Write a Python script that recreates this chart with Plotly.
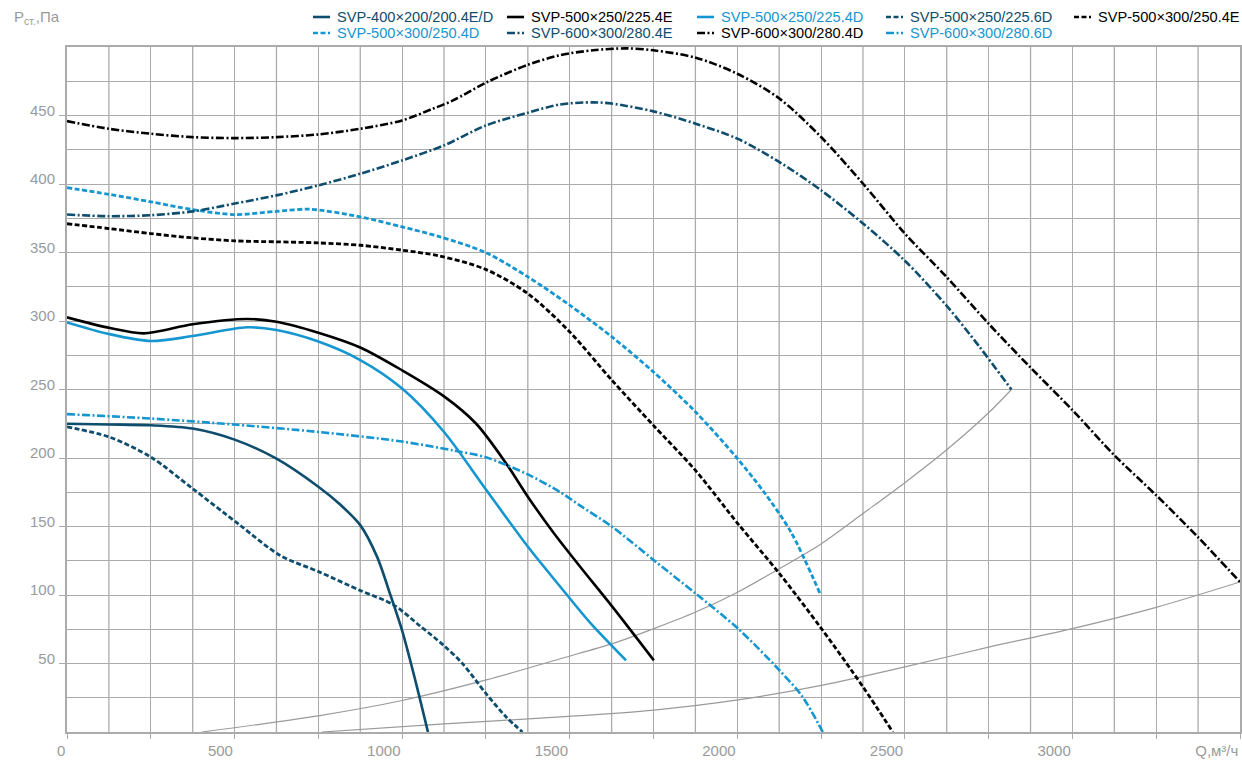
import plotly.graph_objects as go

# ---------------- data ----------------
names = [
    "SVP-400×200/200.4E/D", "SVP-500×250/225.4E", "SVP-500×250/225.4D",
    "SVP-500×250/225.6D", "SVP-500×300/250.4E", "SVP-500×300/250.4D",
    "SVP-600×300/280.4E", "SVP-600×300/280.4D", "SVP-600×300/280.6D",
]

q_400_200_4ED = [0, 125, 250, 375, 500, 625, 750, 815, 875, 925, 965, 1000, 1040, 1077]
p_400_200_4ED = [225, 224.5, 223.9, 221.5, 213.4, 199.5, 179, 166, 151, 128, 100, 74, 37, 0]

q_500_250_4E = [0, 125, 229, 375, 537, 625, 750, 875, 1000, 1125, 1221, 1311, 1376, 1450, 1530, 1627, 1751]
p_500_250_4E = [302.7, 295, 291, 297.6, 301.5, 299.5, 291.5, 280.7, 264, 245, 225, 195.8, 171.4, 146, 121, 91.5, 52.3]

q_500_250_4D = [0, 125, 250, 375, 537, 625, 750, 875, 1000, 1125, 1250, 1376, 1472, 1560, 1668]
p_500_250_4D = [299, 290.5, 285.4, 289, 295.4, 293.4, 285, 271.5, 250.7, 219, 177, 135, 106, 80, 52.3]

q_500_250_6D = [0, 125, 250, 375, 516, 635, 754, 875, 973, 1052, 1125, 1181, 1251, 1311, 1359]
p_500_250_6D = [222.7, 215.4, 200.7, 177.6, 151, 129, 116.7, 103.3, 93, 77.7, 63, 49.7, 27.8, 10.8, 0]

q_500_300_4E = [0, 125, 250, 375, 500, 625, 750, 875, 1000, 1111, 1249, 1374, 1499, 1625, 1749, 1874, 2002, 2126, 2251, 2375, 2464]
p_500_300_4E = [371, 367.5, 363.8, 360.7, 358.5, 357.8, 357, 355.3, 351.7, 347.5, 337.7, 320.2, 292.3, 257, 224, 191.3, 152, 115.6, 75.5, 33, 0]

q_500_300_4D = [0, 125, 250, 375, 500, 625, 725, 875, 1000, 1111, 1249, 1374, 1499, 1625, 1749, 1874, 1999, 2080, 2160, 2247]
p_500_300_4D = [397.3, 392.5, 387, 381.3, 377.7, 380, 381.6, 376, 368.7, 361.6, 350, 332.4, 311.7, 288.6, 263, 234, 200, 175, 146, 101]

q_600_300_4E = [0, 125, 250, 375, 500, 625, 750, 875, 1000, 1125, 1250, 1375, 1470, 1570, 1625, 1750, 1876, 2000, 2126, 2250, 2376, 2500, 2625, 2720, 2818]
p_600_300_4E = [377.7, 376.5, 377.2, 380, 385.7, 391.7, 399, 407.5, 417.2, 428.2, 442.7, 452, 458, 459.6, 458.7, 453, 444, 433.1, 416, 395.4, 371, 344, 311, 282, 250]

q_600_300_4D = [0, 125, 250, 375, 500, 625, 750, 875, 1000, 1092, 1152, 1250, 1375, 1470, 1570, 1669, 1749, 1876, 2000, 2126, 2250, 2376, 2500, 2625, 2750, 2875, 3000, 3125, 3250, 3374, 3500]
p_600_300_4D = [445.9, 440.3, 436.7, 434.2, 433.5, 434.2, 436.2, 440.3, 446.4, 455, 461, 474, 487, 494, 497.6, 499, 497.6, 492.2, 480.5, 462.3, 434.3, 400, 363.8, 332, 298, 266, 235, 202, 172.8, 142.4, 109.5]

q_600_300_6D = [0, 250, 500, 750, 1000, 1152, 1250, 1375, 1472, 1530, 1627, 1751, 1876, 2002, 2126, 2195, 2255]
p_600_300_6D = [232, 228.8, 224.4, 219, 212, 205.5, 200.5, 188, 175, 165.4, 149.7, 125.4, 101, 75.5, 45, 25.6, 0]

# grey system characteristics
q_sys_a = [403, 754, 1000, 1251, 1472, 1627, 1751, 1876, 2002, 2126, 2251, 2375, 2500, 2625, 2750, 2818]
p_sys_a = [0, 12, 23, 38, 53.5, 64.5, 75.5, 87.6, 102.2, 119.3, 137.5, 159.5, 182, 206, 233, 250]
q_sys_b = [760, 1125, 1472, 1751, 2002, 2251, 2500, 2750, 3000, 3250, 3500]
p_sys_b = [0, 6, 11, 16, 23.4, 34, 47.5, 62, 75.5, 91, 109.5]

x_tick_vals = [0, 500, 1000, 1500, 2000, 2500, 3000, 3500]
x_tick_text = ["0", "500", "1000", "1500", "2000", "2500", "3000", "Q,м³/ч"]
y_tick_vals = [50, 100, 150, 200, 250, 300, 350, 400, 450]
y_tick_text = ["50", "100", "150", "200", "250", "300", "350", "400", "450"]

# ---------------- styles ----------------
DARK = "#0e4d6d"
BLACK = "#000000"
LIGHT = "#1596d0"
GRID = "#ababab"
TXT = "#9a9a9a"
DASH = "5px,2.5px"
DASHDOT = "8px,2.5px,2px,2.5px"
FONT = "Liberation Sans, Arial, sans-serif"
SMOOTH = 0.85

styles = [
    (DARK, "solid", 2.6), (BLACK, "solid", 2.6), (LIGHT, "solid", 2.6),
    (DARK, DASH, 2.8), (BLACK, DASH, 2.8), (LIGHT, DASH, 2.8),
    (DARK, DASHDOT, 2.6), (BLACK, DASHDOT, 2.6), (LIGHT, DASHDOT, 2.6),
]
series = [
    (q_400_200_4ED, p_400_200_4ED), (q_500_250_4E, p_500_250_4E), (q_500_250_4D, p_500_250_4D),
    (q_500_250_6D, p_500_250_6D), (q_500_300_4E, p_500_300_4E), (q_500_300_4D, p_500_300_4D),
    (q_600_300_4E, p_600_300_4E), (q_600_300_4D, p_600_300_4D), (q_600_300_6D, p_600_300_6D),
]

W, H = 1242, 761
ML, MR, MT, MB = 67, 2, 47, 29
PW, PH = W - ML - MR, H - MT - MB


def px_x(px):
    return (px - ML) / PW


def px_y(py):
    return (H - MB - py) / PH


fig = go.Figure()

for qs, ps in [(q_sys_a, p_sys_a), (q_sys_b, p_sys_b)]:
    fig.add_trace(go.Scatter(x=qs, y=ps, mode="lines", showlegend=False, hoverinfo="skip",
                             line=dict(color="#9a9a9a", width=1.2, shape="spline", smoothing=SMOOTH)))

for name, (qs, ps), (col, dash, w) in zip(names, series, styles):
    fig.add_trace(go.Scatter(x=qs, y=ps, mode="lines", name=name, showlegend=False,
                             line=dict(color=col, width=w, dash=dash, shape="spline", smoothing=SMOOTH)))

# extra vertical grid lines every 125 between the 250 ticks
for k in range(14):
    q = 125 + 250 * k
    fig.add_shape(type="line", xref="x", yref="paper", x0=q, x1=q, y0=0, y1=1,
                  line=dict(color=GRID, width=1.3), layer="below")

# manual legend: 5 columns x 2 rows
col_sym_x = [313, 507, 697, 886, 1074]
row_y = [17, 33]
for i, (name, (col, dash, w)) in enumerate(zip(names, styles)):
    r, c = divmod(i, 5)
    x0 = col_sym_x[c]
    y0 = row_y[r]
    fig.add_shape(type="line", xref="paper", yref="paper",
                  x0=px_x(x0), x1=px_x(x0 + 17), y0=px_y(y0), y1=px_y(y0),
                  line=dict(color=col, width=2.6, dash=dash))
    fig.add_annotation(text=name, xref="paper", yref="paper", x=px_x(x0 + 22), y=px_y(y0),
                       xanchor="left", yanchor="middle", showarrow=False,
                       font=dict(family=FONT, size=14.6, color=col))

fig.update_layout(
    width=W, height=H,
    margin=dict(l=ML, r=MR, t=MT, b=MB, autoexpand=False),
    paper_bgcolor="white", plot_bgcolor="white",
    font=dict(family=FONT, size=15, color=TXT),
    showlegend=False,
)

fig.update_xaxes(
    range=[0, 3500], tickmode="array", tickvals=x_tick_vals, ticktext=x_tick_text,
    ticks="outside", ticklen=5, tickcolor=GRID, tickwidth=1.3,
    ticklabelposition="outside left", ticklabelstandoff=4,
    showgrid=True, gridcolor=GRID, gridwidth=1.3,
    minor=dict(tickmode="linear", tick0=0, dtick=250, showgrid=True, gridcolor=GRID,
               gridwidth=1.3, ticks="outside", ticklen=5, tickcolor=GRID, tickwidth=1.3),
    showline=True, linecolor=GRID, linewidth=2, zeroline=False, mirror=True,
    automargin=False,
    tickfont=dict(size=15, color=TXT),
)
fig.update_yaxes(
    range=[0, 500], tickmode="array", tickvals=y_tick_vals, ticktext=y_tick_text,
    ticks="outside", ticklen=6, tickcolor=GRID, tickwidth=1.3,
    ticklabelposition="outside", ticklabelshift=-5, ticklabelstandoff=1,
    showgrid=True, gridcolor=GRID, gridwidth=1.3,
    minor=dict(tickmode="linear", tick0=0, dtick=25, showgrid=True, gridcolor=GRID,
               gridwidth=1.3, ticks=""),
    showline=True, linecolor=GRID, linewidth=2, zeroline=False, mirror=True,
    automargin=False,
    tickfont=dict(size=15, color=TXT),
)

fig.add_annotation(text="P<sub>ст.</sub>,Па", xref="paper", yref="paper", x=px_x(62), y=px_y(18),
                   xanchor="right", yanchor="middle",
                   showarrow=False, font=dict(size=15, color=TXT))

fig.write_html("out.html", config={"displayModeBar": False},
               post_script="document.body.style.margin='0';document.body.style.overflow='hidden';")
